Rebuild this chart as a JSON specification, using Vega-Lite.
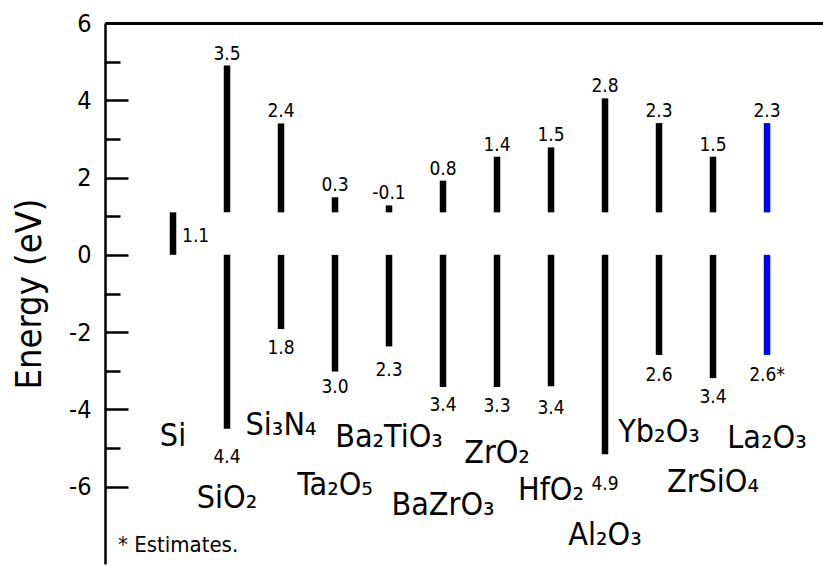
{
  "$schema": "https://vega.github.io/schema/vega-lite/v6.json",
  "width": 718,
  "height": 541,
  "autosize": "none",
  "padding": {"left": 105, "top": 23, "right": 0, "bottom": 2},
  "background": "white",
  "config": {
    "view": {"stroke": null},
    "font": "DejaVu Sans Condensed, Liberation Sans Narrow, Arial Narrow, sans-serif",
    "text": {"font": "DejaVu Sans Condensed, Liberation Sans Narrow, Arial Narrow, sans-serif", "color": "black"}
  },
  "data": {
    "values": [
      {"id": "Si", "label": "Si", "cbLo": 0, "cbHi": 1.1, "vbMin": null, "cbText": null, "gapText": "1.1", "vbText": null, "vbTextY": null, "nameY": -4.94, "set": "measured"},
      {"id": "SiO2", "label": "SiO₂", "cbLo": 1.1, "cbHi": 4.9, "vbMin": -4.5, "cbText": "3.5", "vbText": "4.4", "vbTextY": -5.38, "nameY": -6.54, "set": "measured"},
      {"id": "Si3N4", "label": "Si₃N₄", "cbLo": 1.1, "cbHi": 3.4, "vbMin": -1.92, "cbText": "2.4", "vbText": "1.8", "vbTextY": -2.56, "nameY": -4.65, "set": "measured"},
      {"id": "Ta2O5", "label": "Ta₂O₅", "cbLo": 1.1, "cbHi": 1.49, "vbMin": -3.02, "cbText": "0.3", "vbText": "3.0", "vbTextY": -3.57, "nameY": -6.21, "set": "measured"},
      {"id": "Ba2TiO3", "label": "Ba₂TiO₃", "cbLo": 1.1, "cbHi": 1.28, "vbMin": -2.37, "cbText": "-0.1", "vbText": "2.3", "vbTextY": -3.13, "nameY": -4.97, "set": "measured"},
      {"id": "BaZrO3", "label": "BaZrO₃", "cbLo": 1.1, "cbHi": 1.92, "vbMin": -3.42, "cbText": "0.8", "vbText": "3.4", "vbTextY": -4.04, "nameY": -6.72, "set": "measured"},
      {"id": "ZrO2", "label": "ZrO₂", "cbLo": 1.1, "cbHi": 2.54, "vbMin": -3.42, "cbText": "1.4", "vbText": "3.3", "vbTextY": -4.06, "nameY": -5.38, "set": "measured"},
      {"id": "HfO2", "label": "HfO₂", "cbLo": 1.1, "cbHi": 2.78, "vbMin": -3.4, "cbText": "1.5", "vbText": "3.4", "vbTextY": -4.11, "nameY": -6.34, "set": "measured"},
      {"id": "Al2O3", "label": "Al₂O₃", "cbLo": 1.1, "cbHi": 4.05, "vbMin": -5.16, "cbText": "2.8", "vbText": "4.9", "vbTextY": -6.08, "nameY": -7.5, "set": "measured"},
      {"id": "Yb2O3", "label": "Yb₂O₃", "cbLo": 1.1, "cbHi": 3.41, "vbMin": -2.59, "cbText": "2.3", "vbText": "2.6", "vbTextY": -3.26, "nameY": -4.84, "set": "measured"},
      {"id": "ZrSiO4", "label": "ZrSiO₄", "cbLo": 1.1, "cbHi": 2.54, "vbMin": -3.19, "cbText": "1.5", "vbText": "3.4", "vbTextY": -3.83, "nameY": -6.13, "set": "measured"},
      {"id": "La2O3", "label": "La₂O₃", "cbLo": 1.1, "cbHi": 3.41, "vbMin": -2.59, "cbText": "2.3", "vbText": "2.6*", "vbTextY": -3.26, "nameY": -4.99, "set": "estimate"}
    ]
  },
  "encoding": {
    "x": {
      "field": "id",
      "type": "nominal",
      "sort": null,
      "scale": {"type": "band", "paddingInner": 0, "paddingOuter": 0.648, "align": 0.586},
      "axis": {"orient": "top", "domain": true, "domainWidth": 3, "domainColor": "black", "ticks": false, "labels": false, "title": null, "grid": false}
    }
  },
  "layer": [
    {
      "mark": {"type": "rule", "strokeWidth": 6.5, "strokeCap": "butt"},
      "encoding": {
        "y": {
          "field": "cbHi",
          "type": "quantitative",
          "scale": {"domain": [-8, 6], "nice": false, "zero": false},
          "axis": {
            "title": "Energy (eV)",
            "values": [-6, -5, -4, -3, -2, -1, 0, 1, 2, 3, 4, 5, 6],
            "labelExpr": "datum.value % 2 === 0 ? '' + datum.value : ''",
            "tickSize": {"condition": {"test": "datum.value % 2 === 0", "value": -23}, "value": -15},
            "tickWidth": 2.5,
            "tickColor": "black",
            "domainColor": "black",
            "domainWidth": 2.5,
            "labelFontSize": 25,
            "labelColor": "black",
            "labelPadding": 37,
            "labelFlush": false,
            "labelOverlap": false,
            "labelBound": false,
            "titleFontSize": 36,
            "titleFontWeight": "normal",
            "titleColor": "black",
            "titlePadding": 20,
            "grid": false
          }
        },
        "y2": {"field": "cbLo"},
        "color": {"field": "set", "type": "nominal", "scale": {"domain": ["measured", "estimate"], "range": ["#000000", "#0000ff"]}, "legend": null}
      }
    },
    {
      "transform": [{"filter": "isValid(datum.vbMin)"}],
      "mark": {"type": "rule", "strokeWidth": 6.5, "strokeCap": "butt"},
      "encoding": {
        "y": {"field": "vbMin", "type": "quantitative"},
        "y2": {"datum": 0},
        "color": {"field": "set", "type": "nominal", "legend": null}
      }
    },
    {
      "transform": [{"filter": "isValid(datum.cbText)"}],
      "mark": {"type": "text", "fontSize": 19, "baseline": "alphabetic", "dy": -6},
      "encoding": {
        "y": {"field": "cbHi", "type": "quantitative"},
        "text": {"field": "cbText"}
      }
    },
    {
      "transform": [{"filter": "isValid(datum.vbText)"}],
      "mark": {"type": "text", "fontSize": 19, "baseline": "alphabetic"},
      "encoding": {
        "y": {"field": "vbTextY", "type": "quantitative"},
        "text": {"field": "vbText"}
      }
    },
    {
      "transform": [{"filter": "isValid(datum.gapText)"}],
      "mark": {"type": "text", "fontSize": 19, "baseline": "alphabetic", "align": "left", "dx": 9, "dy": -13},
      "encoding": {
        "y": {"field": "cbLo", "type": "quantitative"},
        "text": {"field": "gapText"}
      }
    },
    {
      "mark": {"type": "text", "fontSize": 32, "baseline": "alphabetic"},
      "encoding": {
        "y": {"field": "nameY", "type": "quantitative"},
        "text": {"field": "label"}
      }
    },
    {
      "data": {"values": [{"note": "* Estimates."}]},
      "mark": {"type": "text", "fontSize": 22, "baseline": "alphabetic", "align": "left", "dx": -55},
      "encoding": {
        "x": {"datum": "Si"},
        "y": {"datum": -7.7},
        "text": {"field": "note"}
      }
    }
  ]
}
